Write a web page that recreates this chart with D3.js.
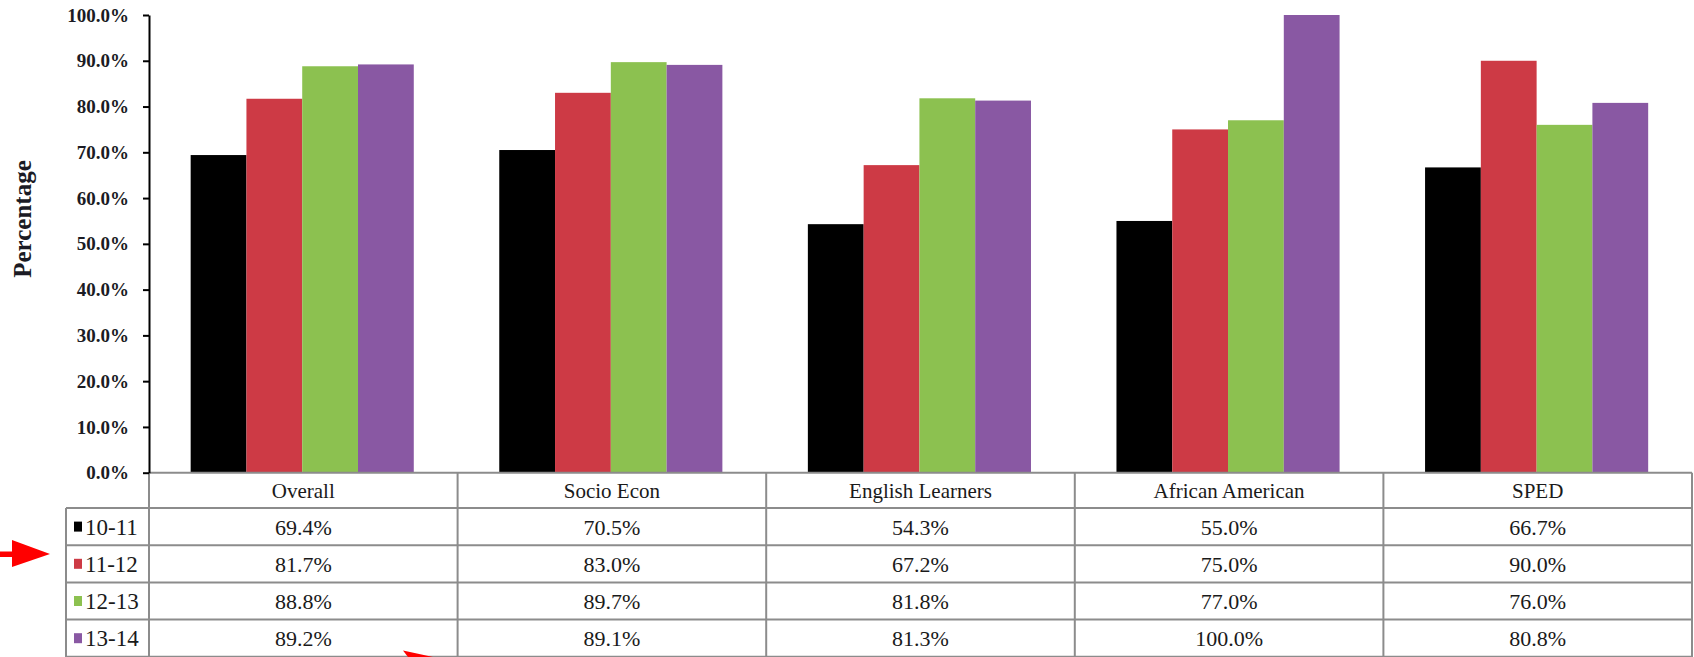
<!DOCTYPE html>
<html>
<head>
<meta charset="utf-8">
<script src="https://cdn.jsdelivr.net/npm/d3@7"></script>
<style>
body { margin: 0; background: #fff; }
</style>
</head>
<body>
<div id="chart"></div>
<script>
//chart data
var categories = ["Overall", "Socio Econ", "English Learners", "African American", "SPED"];
var years = ["10-11", "11-12", "12-13", "13-14"];
var colors = ["#000000", "#cd3a45", "#8cc150", "#8958a3"];
var yTicks = [0, 0.1, 0.2, 0.3, 0.4, 0.5, 0.6, 0.7, 0.8, 0.9, 1.0];

//one array per school year, values in %
var y1011 = [69.4, 70.5, 54.3, 55.0, 66.7];
var y1112 = [81.7, 83.0, 67.2, 75.0, 90.0];
var y1213 = [88.8, 89.7, 81.8, 77.0, 76.0];
var y1314 = [89.2, 89.1, 81.3, 100.0, 80.8];
var seriesValues = [y1011, y1112, y1213, y1314];

var serif = "'Liberation Serif', 'Times New Roman', serif";

//svg size
var svgWidth = 1694;
var svgHeight = 657;

//plot borders
var plotLeft = 149;
var plotRight = 1692;
var plotTop = 15;
var plotBottom = 472.7;
var tableLeft = 66;
var headerBottom = 508;
var rowHeight = 37.2;

var svg = d3.select("#chart").append("svg")
    .attr("width", svgWidth)
    .attr("height", svgHeight)
    .attr("font-family", serif);

svg.append("rect")
    .attr("width", svgWidth)
    .attr("height", svgHeight)
    .attr("fill", "#fff");

//scales
var xScale = d3.scaleBand()
    .domain(categories)
    .range([plotLeft, plotRight]);

var bw = xScale.bandwidth();

var xSub = d3.scaleBand()
    .domain(years)
    .range([bw * 0.135, bw * 0.858]);

var yScale = d3.scaleLinear()
    .domain([0, 1])
    .range([plotBottom, plotTop]);

//bars
var barData = [];
seriesValues.forEach(function(vals, i) {
    vals.forEach(function(v, j) {
        barData.push({cat: categories[j], year: years[i], value: v / 100, color: colors[i]});
    });
});

svg.append("g").selectAll("rect")
    .data(barData)
    .enter()
    .append("rect")
    .attr("x", d => xScale(d.cat) + xSub(d.year))
    .attr("y", d => yScale(d.value))
    .attr("width", xSub.bandwidth())
    .attr("height", d => yScale(0) - yScale(d.value))
    .attr("fill", d => d.color);

//table grid lines
var grid = svg.append("g")
    .attr("stroke", "#8c8c8c")
    .attr("stroke-width", 2)
    .attr("fill", "none");

var rowLines = [plotBottom, headerBottom];
for (var r = 1; r <= years.length; r++) rowLines.push(headerBottom + r * rowHeight);

rowLines.forEach(function(yy, i) {
    grid.append("line")
        .attr("x1", i == 0 ? plotLeft : tableLeft)
        .attr("x2", plotRight)
        .attr("y1", yy)
        .attr("y2", yy);
});

//vertical separators
var colEdges = categories.map(c => xScale(c)).concat([plotRight]);
colEdges.forEach(function(xx) {
    grid.append("line")
        .attr("x1", xx)
        .attr("x2", xx)
        .attr("y1", plotBottom)
        .attr("y2", svgHeight + 5);
});
grid.append("line")
    .attr("x1", tableLeft)
    .attr("x2", tableLeft)
    .attr("y1", headerBottom)
    .attr("y2", svgHeight + 5);

//y axis
var leftAxis = d3.axisLeft(yScale)
    .tickValues(yTicks)
    .tickFormat(d3.format(".1%"))
    .tickSize(6)
    .tickSizeOuter(0)
    .tickPadding(14);

var yAxis = svg.append("g")
    .attr("transform", `translate(${plotLeft}, 0)`)
    .call(leftAxis);

yAxis.select(".domain").attr("stroke", "#000").attr("stroke-width", 2);
yAxis.selectAll(".tick line").attr("stroke", "#000").attr("stroke-width", 2);
yAxis.selectAll("text")
    .attr("font-family", serif)
    .attr("font-size", "19px")
    .attr("font-weight", "bold")
    .attr("fill", "#1b1b24");

//y label
svg.append("text")
    .attr("transform", "translate(25, 219) rotate(-90)")
    .attr("text-anchor", "middle")
    .attr("dominant-baseline", "middle")
    .attr("font-family", serif)
    .attr("font-size", "25px")
    .attr("font-weight", "bold")
    .attr("fill", "#1b1b24")
    .text("Percentage");

//category header
svg.append("g").selectAll("text")
    .data(categories)
    .enter()
    .append("text")
    .attr("x", d => xScale(d) + bw / 2)
    .attr("y", headerBottom - 10)
    .attr("text-anchor", "middle")
    .attr("font-family", serif)
    .attr("font-size", "21px")
    .attr("fill", "#1a1a1a")
    .text(d => d);

//table rows
years.forEach(function(yr, i) {
    var rowY = headerBottom + i * rowHeight;

    svg.append("rect")
        .attr("x", 74)
        .attr("y", rowY + rowHeight / 2 - 5)
        .attr("width", 8)
        .attr("height", 10)
        .attr("fill", colors[i]);

    svg.append("text")
        .attr("x", 85)
        .attr("y", rowY + rowHeight / 2 + 8)
        .attr("font-family", serif)
        .attr("font-size", "23px")
        .attr("fill", "#1a1a1a")
        .text(yr);

    svg.append("g").selectAll("text")
        .data(seriesValues[i])
        .enter()
        .append("text")
        .attr("x", (d, j) => xScale(categories[j]) + bw / 2)
        .attr("y", rowY + rowHeight / 2 + 8)
        .attr("text-anchor", "middle")
        .attr("font-family", serif)
        .attr("font-size", "22px")
        .attr("fill", "#1a1a1a")
        .text(d => d.toFixed(1) + "%");
});

//red arrows drawn over the picture
svg.append("rect")
    .attr("x", 0)
    .attr("y", 551.5)
    .attr("width", 14)
    .attr("height", 5.5)
    .attr("fill", "#ff0000");
svg.append("polygon")
    .attr("points", "12,540 50,554 12,567")
    .attr("fill", "#ff0000");
svg.append("polygon")
    .attr("points", "403,650.5 433,657 408,657")
    .attr("fill", "#ff0000");
</script>
</body>
</html>
